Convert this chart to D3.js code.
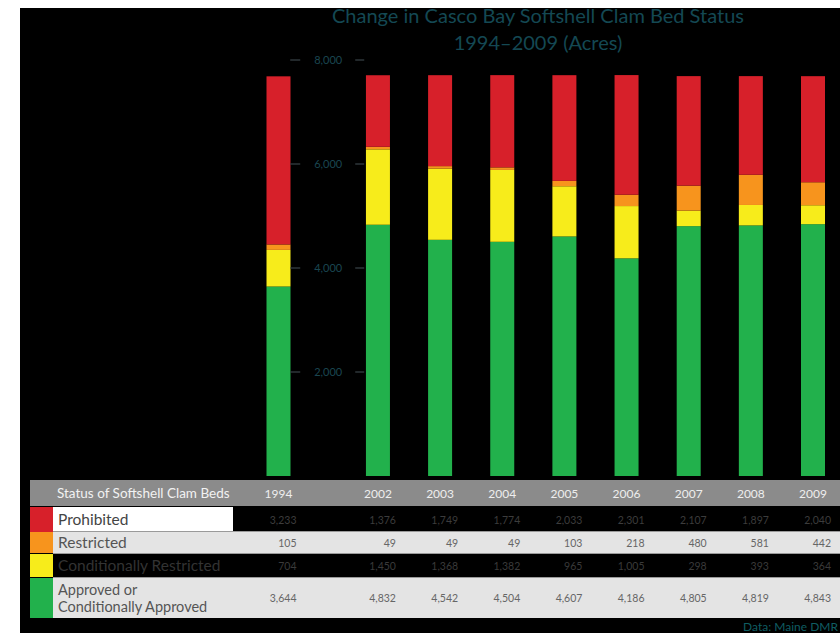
<!DOCTYPE html>
<html><head><meta charset="utf-8">
<script src="https://cdn.jsdelivr.net/npm/d3@7"></script>
<style>html,body{margin:0;padding:0;background:#fff;}svg{display:block;}</style>
</head><body>
<script>
const years = ["1994","2002","2003","2004","2005","2006","2007","2008","2009"];
const prohibited = [3233,1376,1749,1774,2033,2301,2107,1897,2040];
const restricted = [105,49,49,49,103,218,480,581,442];
const condRestricted = [704,1450,1368,1382,965,1005,298,393,364];
const approved = [3644,4832,4542,4504,4607,4186,4805,4819,4843];
const yTicks = [2000,4000,6000,8000];
const seriesKeys = ["approved","condRestricted","restricted","prohibited"];
const colors = {approved:"#22b14c", condRestricted:"#f7ec1b", restricted:"#f7941d", prohibited:"#d7202a"};

const W=840,H=633;
const svg=d3.select("body").append("svg").attr("width",W).attr("height",H);
const font="Lato, 'Open Sans', sans-serif";
svg.append("rect").attr("width",W).attr("height",H).attr("fill","#fff");
svg.append("rect").attr("x",20).attr("y",8).attr("width",W-20).attr("height",H-8).attr("fill","#000");

const rows = years.map((yr,i)=>({year:yr,approved:approved[i],condRestricted:condRestricted[i],restricted:restricted[i],prohibited:prohibited[i],slot: i===0?0:i+0.6}));
const x=d3.scaleLinear().domain([0,8.6]).range([278.5,813]);
const y=d3.scaleLinear().domain([0,8000]).range([476,60]);
const bw=24;

const stack=d3.stack().keys(seriesKeys)(rows);
svg.append("g").selectAll("g").data(stack).join("g").attr("fill",d=>colors[d.key])
  .selectAll("rect").data(d=>d).join("rect")
  .attr("x",d=>x(d.data.slot)-bw/2).attr("width",bw)
  .attr("y",d=>y(d[1])).attr("height",d=>y(d[0])-y(d[1]));

// title
const tc="#144853";
svg.append("text").attr("x",538).attr("y",23).attr("text-anchor","middle").attr("font-family",font).attr("font-size",20).attr("fill",tc).text("Change in Casco Bay Softshell Clam Bed Status");
svg.append("text").attr("x",538).attr("y",50).attr("text-anchor","middle").attr("font-family",font).attr("font-size",20).attr("fill",tc).text("1994\u20132009 (Acres)");

// y axis labels
const ax=svg.append("g");
const lx=(x(0)+x(1.6))/2;
yTicks.forEach(t=>{
  ax.append("text").attr("x",lx).attr("y",y(t)+4).attr("text-anchor","middle").attr("font-family",font).attr("font-size",11).attr("fill","#1a4650").text(d3.format(",")(t));
  ax.append("line").attr("x1",lx-38).attr("x2",lx-28).attr("y1",y(t)).attr("y2",y(t)).attr("stroke","#3a4448").attr("stroke-width",1.2);
  ax.append("line").attr("x1",lx+27).attr("x2",lx+36).attr("y1",y(t)).attr("y2",y(t)).attr("stroke","#3a4448").attr("stroke-width",1.2);
});

// table
const T=svg.append("g");
const tx0=30, sw=23, lab0=53;
T.append("rect").attr("x",tx0).attr("y",480).attr("width",W-tx0).attr("height",26).attr("fill","#8b8b8b");
T.append("text").attr("x",57).attr("y",498).attr("font-family",font).attr("font-size",13.5).attr("fill","#f2f2f2").text("Status of Softshell Clam Beds");
rows.forEach(r=>{
  T.append("text").attr("x",x(r.slot)).attr("y",498).attr("text-anchor","middle").attr("font-family",font).attr("font-size",12).attr("fill","#eeeeee").text(r.year);
});
const tableRows=[
 {key:"prohibited",label:["Prohibited"],y0:507,h:25,bg:"#000",labelBg:"#ffffff",labelColor:"#444",numColor:"#3c3c3c"},
 {key:"restricted",label:["Restricted"],y0:532,h:21,bg:"#e4e4e4",labelBg:"#e4e4e4",labelColor:"#555",numColor:"#666"},
 {key:"condRestricted",label:["Conditionally Restricted"],y0:554,h:23,bg:"#000",labelBg:"#000",labelColor:"#333",numColor:"#3a3a3a"},
 {key:"approved",label:["Approved or","Conditionally Approved"],y0:578,h:40,bg:"#e4e4e4",labelBg:"#e4e4e4",labelColor:"#555",numColor:"#666"}
];
tableRows.forEach(tr=>{
  T.append("rect").attr("x",lab0).attr("y",tr.y0).attr("width",W-lab0).attr("height",tr.h).attr("fill",tr.bg);
  T.append("rect").attr("x",lab0).attr("y",tr.y0).attr("width",233-lab0).attr("height",tr.h).attr("fill",tr.labelBg);
  T.append("rect").attr("x",tx0).attr("y",tr.y0).attr("width",sw).attr("height",tr.h).attr("fill",colors[tr.key]);
  const n=tr.label.length;
  tr.label.forEach((l,j)=>{
    T.append("text").attr("x",58).attr("y",tr.y0+tr.h/2+5+(j-(n-1)/2)*17).attr("font-family",font).attr("font-size",n>1?14.5:15.5).attr("fill",tr.labelColor).text(l);
  });
  rows.forEach(r=>{
    T.append("text").attr("x",x(r.slot)+18).attr("y",tr.y0+tr.h/2+4).attr("text-anchor","end").attr("font-family",font).attr("font-size",10.5).attr("fill",tr.numColor).text(d3.format(",")(r[tr.key]));
  });
});
[531.5,553.5,577.5].forEach(yy=>T.append("line").attr("x1",lab0).attr("x2",W).attr("y1",yy).attr("y2",yy).attr("stroke","#9a9a9a").attr("stroke-width",1));
svg.append("text").attr("x",838).attr("y",631).attr("text-anchor","end").attr("font-family",font).attr("font-size",12).attr("fill","#0f5d62").text("Data: Maine DMR");
</script>
</body></html>
